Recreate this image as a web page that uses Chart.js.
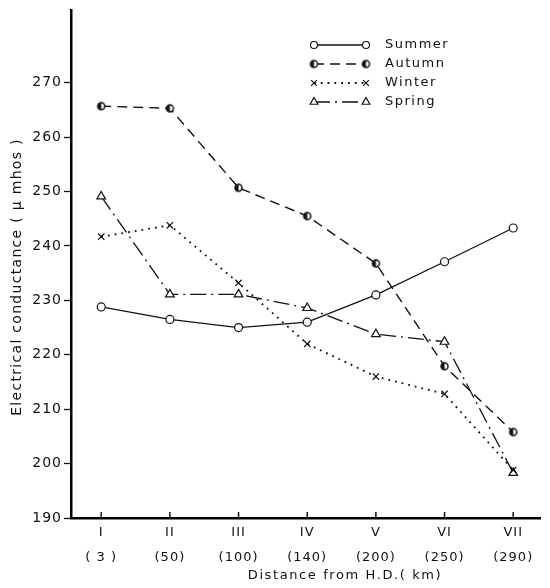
<!DOCTYPE html>
<html>
<head>
<meta charset="utf-8">
<script src="https://cdn.jsdelivr.net/npm/chart.js@4"></script>
<style>
  html, body { margin: 0; padding: 0; background: #fff; }
  #wrap { width: 550px; height: 588px; }
</style>
</head>
<body>
<div id="wrap"><canvas id="chart" width="550" height="588"></canvas></div>
<script>
// sampling stations and their distance from H.D.
const stations = ['I', 'II', 'III', 'IV', 'V', 'VI', 'VII'];
const distances = ['( 3 )', '(50)', '(100)', '(140)', '(200)', '(250)', '(290)'];
const seriesNames = ['Summer', 'Autumn', 'Winter', 'Spring'];

// electrical conductance (micro mhos)
const summer = [228.8, 226.5, 225.0, 226.0, 231.0, 237.1, 243.3];
const autumn = [265.7, 265.3, 250.7, 245.5, 236.8, 217.9, 205.8];
const winter = [241.7, 243.8, 233.2, 222.0, 216.0, 212.8, 198.8];
const spring = [249.1, 231.1, 231.1, 228.6, 223.8, 222.4, 198.3];

const yTicks = [190, 200, 210, 220, 230, 240, 250, 260, 270];

const ink = '#111';
const FONT = '"DejaVu Sans", sans-serif';

// half-filled circle used for autumn
const autumnMarker = (() => {
  const c = document.createElement('canvas');
  c.width = 11; c.height = 11;
  const g = c.getContext('2d');
  g.beginPath(); g.arc(5.5, 5.5, 3.5, 0, Math.PI * 2);
  g.fillStyle = '#fff'; g.fill();
  g.lineWidth = 1.5; g.strokeStyle = ink; g.stroke();
  g.beginPath(); g.arc(5.5, 5.5, 3.5, Math.PI * 0.5, Math.PI * 1.5);
  g.fillStyle = ink; g.fill();
  return c;
})();

const toPoints = (values) => values.map((v, i) => ({ x: i, y: v }));

const styles = [
  { dash: [], pointStyle: 'circle', radius: 4, width: 1.3 },
  { dash: [10, 6], pointStyle: autumnMarker, radius: 4, width: 1.4 },
  { dash: [1.8, 5], pointStyle: 'crossRot', radius: 4.5, width: 1.8 },
  { dash: [16, 5, 2, 5], pointStyle: 'triangle', radius: 5, width: 1.3 },
];
const seriesValues = [summer, autumn, winter, spring];

const datasets = seriesNames.map((name, k) => ({
  label: name,
  data: toPoints(seriesValues[k]),
  borderColor: ink,
  backgroundColor: '#fff',
  borderWidth: styles[k].width,
  borderDash: styles[k].dash,
  pointStyle: styles[k].pointStyle,
  pointRadius: styles[k].radius,
  pointBorderWidth: 1.2,
  pointBorderColor: ink,
  pointBackgroundColor: '#fff',
  tension: 0,
}));

const decorations = {
  id: 'decorations',
  beforeDraw(chart) {
    chart.ctx.letterSpacing = '1px';
  },
  afterDraw(chart) {
    const ctx = chart.ctx;
    const x = chart.scales.x;
    const area = chart.chartArea;
    ctx.save();
    // small inward ticks on the x axis
    ctx.strokeStyle = ink;
    ctx.lineWidth = 1.5;
    stations.forEach((s, i) => {
      const px = x.getPixelForValue(i);
      ctx.beginPath();
      ctx.moveTo(px, area.bottom);
      ctx.lineTo(px, area.bottom - 6);
      ctx.stroke();
    });

    // legend
    ctx.font = '13px ' + FONT;
    ctx.letterSpacing = '1.5px';
    ctx.fillStyle = ink;
    ctx.textBaseline = 'middle';
    chart.data.datasets.forEach((ds, i) => {
      const y = 45 + 19 * i;
      ctx.save();
      ctx.setLineDash(ds.borderDash);
      ctx.lineWidth = ds.borderWidth;
      ctx.beginPath();
      ctx.moveTo(314, y);
      ctx.lineTo(366, y);
      ctx.stroke();
      ctx.restore();
      [314, 366].forEach(px => {
        ctx.save();
        ctx.fillStyle = '#fff';
        ctx.strokeStyle = ink;
        ctx.lineWidth = 1.2;
        Chart.helpers.drawPoint(ctx, {
          pointStyle: ds.pointStyle,
          radius: ds.pointRadius - 0.5,
          rotation: 0,
          borderWidth: 1.2,
        }, px, y);
        ctx.restore();
      });
      ctx.fillText(ds.label, 385, y);
    });

    // axis titles
    ctx.font = '13px ' + FONT;
    ctx.letterSpacing = '1.6px';
    ctx.textAlign = 'center';
    ctx.fillText('Distance from H.D.( km)', 345, 576);

    ctx.save();
    ctx.translate(17, 277);
    ctx.rotate(-Math.PI / 2);
    ctx.font = '14px ' + FONT;
    ctx.letterSpacing = '1.3px';
    ctx.fillText('Electrical conductance ( \u03BC mhos )', 0, 0);
    ctx.restore();
    ctx.restore();
  }
};

new Chart(document.getElementById('chart'), {
  type: 'line',
  data: { datasets },
  options: {
    responsive: false,
    animation: false,
    layout: { padding: { top: 6, right: 10, left: 0, bottom: 0 } },
    plugins: { legend: { display: false }, tooltip: { enabled: false } },
    scales: {
      x: {
        type: 'linear',
        min: -0.44,
        max: 6.39,
        afterBuildTicks: (scale) => { scale.ticks = stations.map((s, i) => ({ value: i })); },
        afterFit: (scale) => { scale.height = 70; },
        grid: { display: false, drawTicks: false },
        border: { color: '#000', width: 2.5 },
        ticks: {
          color: ink,
          padding: 2,
          maxRotation: 0,
          autoSkip: false,
          font: { family: FONT, size: 13, lineHeight: 1.95 },
          callback: (v) => [stations[v], distances[v]],
        },
      },
      y: {
        min: 190,
        max: 283.3,
        afterBuildTicks: (scale) => { scale.ticks = yTicks.map(v => ({ value: v })); },
        afterFit: (scale) => { scale.width = 71; },
        grid: { drawOnChartArea: false, drawTicks: true, tickLength: 7, tickColor: ink, tickWidth: 1.3 },
        border: { color: '#000', width: 2.5 },
        ticks: {
          color: ink,
          padding: 2,
          font: { family: FONT, size: 14 },
        },
      },
    },
  },
  plugins: [decorations],
});
</script>
</body>
</html>
